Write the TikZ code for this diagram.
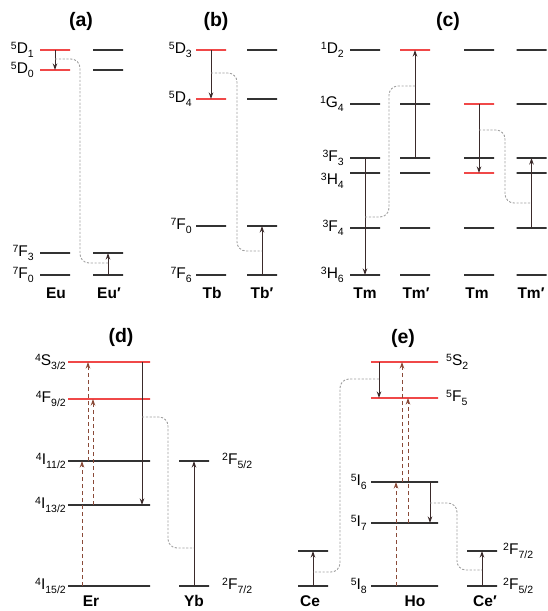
\documentclass[tikz,border=0pt]{standalone}
\usepackage{fontspec}
\setmainfont{Liberation Sans}
\usetikzlibrary{positioning,arrows.meta}

\definecolor{lvlgray}{HTML}{333333}
\definecolor{lvlred}{HTML}{F04848}
\definecolor{arrdark}{HTML}{3A2A2A}
\definecolor{arrbrown}{HTML}{8A4A38}
\definecolor{etgray}{HTML}{A0A0A0}

\newcommand{\tsym}[3]{\raisebox{3.8pt}{\fontsize{10.5}{10}\selectfont #1}#2\raisebox{-4.2pt}{\fontsize{10.5}{10}\selectfont #3}}

\tikzset{
  lvl/.style={rectangle, draw=lvlgray, line width=1.3pt, minimum width=30, minimum height=0, inner sep=0, outer sep=0},
  hot/.style={lvl, draw=lvlred},
  emit/.style={draw=arrdark, line width=1pt, -{Stealth[length=6.5pt,width=4.5pt]}},
  pump/.style={emit, draw=arrbrown, line width=0.9pt, dash pattern=on 4.5pt off 2.5pt},
  transfer/.style={draw=etgray, line width=0.9pt, dash pattern=on 2.2pt off 1.6pt, rounded corners=9},
  term/.style={inner sep=0, font=\fontsize{15.5}{18}\selectfont},
  ion/.style={inner sep=0, font=\fontsize{15.5}{18}\selectfont\bfseries},
  panel/.style={inner sep=0, font=\fontsize{19.5}{22}\selectfont\bfseries},
}

\begin{document}
\begin{tikzpicture}[x=1pt, y=-1pt]
\useasboundingbox (0,0) rectangle (547,611);

% (a) Eu -> Eu'
\node(ta) [panel] at (81,21) {(a)};
\node(EuD1) [hot] at (55,50) {};
\node(EuD0) [hot] at (55,70) {};
\node(EuF3) [lvl] at (55,253) {};
\node(EuF0) [lvl] at (55,275) {};
\node(EupD1) [lvl] at (108,50) {};
\node(EupD0) [lvl] at (108,70) {};
\node(EupF3) [lvl] at (108,253) {};
\node(EupF0) [lvl] at (108,275) {};
\node[term, left=6pt of EuD1] {\tsym{5}{D}{1}};
\node[term, left=6pt of EuD0] {\tsym{5}{D}{0}};
\node[term, left=6pt of EuF3] {\tsym{7}{F}{3}};
\node[term, left=6pt of EuF0] {\tsym{7}{F}{0}};
\node(Eu) [ion] at (56,293) {Eu};
\node(Eup) [ion] at (109,293) {Eu′};
\draw[emit] (EuD1) -- (EuD0);
\draw[emit] (EupF0) -- (EupF3);
\coordinate (a1) at (55,59);
\coordinate (a2) at (108,263);
\draw[transfer] (a1) -- (80,0 |- a1) -- (80,0 |- a2) -- (a2);

% (b) Tb -> Tb'
\node(tb) [panel] at (216,21) {(b)};
\node(TbD3) [hot] at (211,50) {};
\node(TbD4) [hot] at (211,99) {};
\node(TbF0) [lvl] at (211,226) {};
\node(TbF6) [lvl] at (211,275) {};
\node(TbpD3) [lvl] at (262,50) {};
\node(TbpD4) [lvl] at (262,99) {};
\node(TbpF0) [lvl] at (262,226) {};
\node(TbpF6) [lvl] at (262,275) {};
\node[term, left=4pt of TbD3] {\tsym{5}{D}{3}};
\node[term, left=4pt of TbD4] {\tsym{5}{D}{4}};
\node[term, left=4pt of TbF0] {\tsym{7}{F}{0}};
\node[term, left=4pt of TbF6] {\tsym{7}{F}{6}};
\node(Tb) [ion] at (212,293) {Tb};
\node(Tbp) [ion] at (262,293) {Tb′};
\draw[emit] (TbD3) -- (TbD4);
\draw[emit] (TbpF6) -- (TbpF0);
\coordinate (b1) at (211,73);
\coordinate (b2) at (262,251);
\draw[transfer] (b1) -- (237,0 |- b1) -- (237,0 |- b2) -- (b2);

% (c) Tm <-> Tm'
\node(tc) [panel] at (448,21) {(c)};
\node(TmaD2) [lvl] at (365,50) {};
\node(TmaG4) [lvl] at (365,104) {};
\node(TmaF3) [lvl] at (365,158) {};
\node(TmaH4) [lvl] at (365,173) {};
\node(TmaF4) [lvl] at (365,228) {};
\node(TmaH6) [lvl] at (365,275) {};
\node(TmbD2) [hot] at (415,50) {};
\node(TmbG4) [lvl] at (415,104) {};
\node(TmbF3) [lvl] at (415,158) {};
\node(TmbH4) [lvl] at (415,173) {};
\node(TmbF4) [lvl] at (415,228) {};
\node(TmbH6) [lvl] at (415,275) {};
\node(TmcD2) [lvl] at (479,50) {};
\node(TmcG4) [hot] at (479,104) {};
\node(TmcF3) [lvl] at (479,158) {};
\node(TmcH4) [hot] at (479,173) {};
\node(TmcF4) [lvl] at (479,228) {};
\node(TmcH6) [lvl] at (479,275) {};
\node(TmdD2) [lvl] at (531.5,50) {};
\node(TmdG4) [lvl] at (531.5,104) {};
\node(TmdF3) [lvl] at (531.5,158) {};
\node(TmdH4) [lvl] at (531.5,173) {};
\node(TmdF4) [lvl] at (531.5,228) {};
\node(TmdH6) [lvl] at (531.5,275) {};
\node[term, left=6pt of TmaD2] {\tsym{1}{D}{2}};
\node[term, left=6pt of TmaG4] {\tsym{1}{G}{4}};
\node[term, left=6pt of TmaF3] {\tsym{3}{F}{3}};
\node[term, left=6pt of TmaH4, yshift=-8pt] {\tsym{3}{H}{4}};
\node[term, left=6pt of TmaF4] {\tsym{3}{F}{4}};
\node[term, left=6pt of TmaH6] {\tsym{3}{H}{6}};
\node(Tma) [ion] at (365,293) {Tm};
\node(Tmb) [ion] at (416,293) {Tm′};
\node(Tmc) [ion] at (477,293) {Tm};
\node(Tmd) [ion] at (531,293) {Tm′};
\draw[emit] (TmaF3) -- (TmaH6);
\draw[emit] (TmbF3) -- (TmbD2);
\draw[emit] (TmcG4) -- (TmcH4);
\draw[emit] (TmdF4) -- (TmdF3);
\coordinate (c1) at (365,217);
\coordinate (c2) at (415,86);
\draw[transfer] (c1) -- (389,0 |- c1) -- (389,0 |- c2) -- (c2);
\coordinate (c3) at (479,130);
\coordinate (c4) at (531.5,203);
\draw[transfer] (c3) -- (505,0 |- c3) -- (505,0 |- c4) -- (c4);

% (d) Yb -> Er
\node(td) [panel] at (121,337) {(d)};
\node(ErS32) [hot, minimum width=82] at (109,362) {};
\node(ErF92) [hot, minimum width=82] at (109,399) {};
\node(ErI11) [lvl, minimum width=82] at (109,461) {};
\node(ErI13) [lvl, minimum width=82] at (109,505) {};
\node(ErI15) [lvl, minimum width=82] at (109,586) {};
\node(YbF52) [lvl] at (194,461) {};
\node(YbF72) [lvl] at (194,586) {};
\node[term, left=2pt of ErS32] {\tsym{4}{S}{3/2}};
\node[term, left=2pt of ErF92] {\tsym{4}{F}{9/2}};
\node[term, left=2pt of ErI11] {\tsym{4}{I}{11/2}};
\node[term, left=2pt of ErI13] {\tsym{4}{I}{13/2}};
\node[term, left=2pt of ErI15] {\tsym{4}{I}{15/2}};
\node[term, right=13pt of YbF52] {\tsym{2}{F}{5/2}};
\node[term, right=13pt of YbF72] {\tsym{2}{F}{7/2}};
\node(Er) [ion] at (91,601) {Er};
\node(Yb) [ion] at (194,601) {Yb};
\draw[pump] (82,0 |- ErI15) -- (82,0 |- ErI11);
\draw[pump] (88,0 |- ErI11) -- (88,0 |- ErS32);
\draw[pump] (93,0 |- ErI13) -- (93,0 |- ErF92);
\draw[emit] (142,0 |- ErS32) -- (142,0 |- ErI13);
\draw[emit] (YbF72) -- (YbF52);
\coordinate (d1) at (142,417);
\coordinate (d2) at (194,548);
\draw[transfer] (d1) -- (168,0 |- d1) -- (168,0 |- d2) -- (d2);

% (e) Ce <-> Ho
\node(te) [panel] at (403,338) {(e)};
\node(HoS2) [hot, minimum width=67] at (404.5,362) {};
\node(HoF5) [hot, minimum width=67] at (404.5,398) {};
\node(HoI6) [lvl, minimum width=67] at (404.5,482) {};
\node(HoI7) [lvl, minimum width=67] at (404.5,523) {};
\node(HoI8) [lvl, minimum width=67] at (404.5,586) {};
\node(CeU) [lvl] at (313,551) {};
\node(CeL) [lvl] at (313,586) {};
\node(CepU) [lvl] at (482,551) {};
\node(CepL) [lvl] at (482,586) {};
\node[term, right=8pt of HoS2] {\tsym{5}{S}{2}};
\node[term, right=8pt of HoF5] {\tsym{5}{F}{5}};
\node[term, left=4pt of HoI6] {\tsym{5}{I}{6}};
\node[term, left=4pt of HoI7] {\tsym{5}{I}{7}};
\node[term, left=4pt of HoI8] {\tsym{5}{I}{8}};
\node[term, right=6pt of CepU] {\tsym{2}{F}{7/2}};
\node[term, right=6pt of CepL] {\tsym{2}{F}{5/2}};
\node(Ce) [ion] at (310,601) {Ce};
\node(Ho) [ion] at (415,601) {Ho};
\node(Cep) [ion] at (485,601) {Ce′};
\draw[emit] (379,0 |- HoS2) -- (379,0 |- HoF5);
\draw[pump] (396,0 |- HoI8) -- (396,0 |- HoI6);
\draw[pump] (402,0 |- HoI6) -- (402,0 |- HoS2);
\draw[pump] (408,0 |- HoI7) -- (408,0 |- HoF5);
\draw[emit] (430,0 |- HoI6) -- (430,0 |- HoI7);
\draw[emit] (CeL) -- (CeU);
\draw[emit] (CepL) -- (CepU);
\coordinate (e1) at (379,379);
\coordinate (e2) at (313,572);
\draw[transfer] (e1) -- (340,0 |- e1) -- (340,0 |- e2) -- (e2);
\coordinate (e3) at (430,503);
\coordinate (e4) at (482,570);
\draw[transfer] (e3) -- (457,0 |- e3) -- (457,0 |- e4) -- (e4);

\end{tikzpicture}
\end{document}
